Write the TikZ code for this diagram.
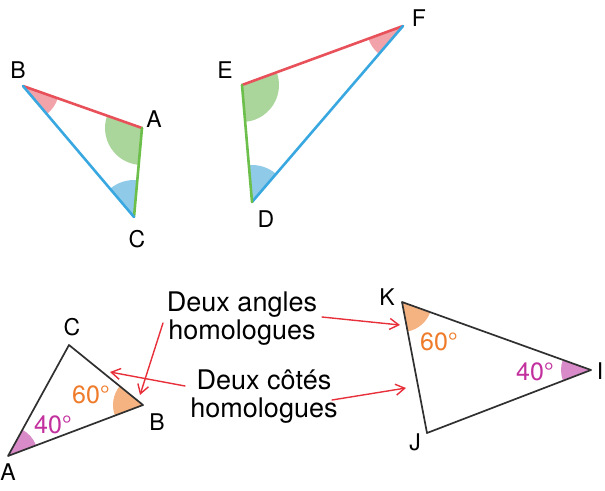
\documentclass[tikz,border=0pt]{standalone}
\usepackage{fontspec}
\setmainfont{TeX Gyre Heros}
\usetikzlibrary{angles, arrows.meta}

\definecolor{sidered}{HTML}{E8505A}
\definecolor{sideblue}{HTML}{3AA8E0}
\definecolor{sidegreen}{HTML}{6CBF4A}
\definecolor{wedgered}{HTML}{F2A3AA}
\definecolor{wedgegreen}{HTML}{AAD59B}
\definecolor{wedgeblue}{HTML}{8FCBE8}
\definecolor{wedgeorange}{HTML}{F5B382}
\definecolor{wedgemagenta}{HTML}{D88BC8}
\definecolor{txtorange}{HTML}{EF7B2A}
\definecolor{txtmagenta}{HTML}{C2309E}
\definecolor{arrowred}{HTML}{E8303A}
\definecolor{edgegray}{HTML}{303030}

\begin{document}
\begin{tikzpicture}[x=1pt, y=-1pt, line join=round, line cap=round,
    vlabel/.style={font=\fontsize{23}{23}\selectfont, inner sep=0pt},
    note/.style={font=\fontsize{27}{28}\selectfont, align=center, inner sep=2pt},
    deg/.style={font=\fontsize{25}{25}\selectfont, inner sep=0pt},
    edgetop/.style={line width=2.6pt},
    edgebot/.style={line width=1.7pt, draw=edgegray},
    bigwedge/.style={angle radius=37pt},
    smallwedge/.style={angle radius=30pt},
    pointer/.style={draw=arrowred, line width=1.4pt, -{Straight Barb[length=9pt,width=11pt]}}]

    \useasboundingbox (0,0) rectangle (605,490);

    % --- Top left triangle ABC ---
    \coordinate (B1) at (23,86);
    \coordinate (A1) at (142,128);
    \coordinate (C1) at (134,217);

    \pic[bigwedge, fill=wedgered]   {angle = C1--B1--A1};
    \pic[bigwedge, fill=wedgegreen] {angle = B1--A1--C1};
    \pic[bigwedge, fill=wedgeblue]  {angle = A1--C1--B1};

    \draw[edgetop, sidered]   (B1) -- (A1);
    \draw[edgetop, sidegreen] (A1) -- (C1);
    \draw[edgetop, sideblue]  (C1) -- (B1);

    \node[vlabel] (lB1) at (18,70)  {B};
    \node[vlabel] (lA1) at (154,119) {A};
    \node[vlabel] (lC1) at (137,239) {C};

    % --- Top right triangle DEF ---
    \coordinate (E2) at (242,85);
    \coordinate (F2) at (403,26);
    \coordinate (D2) at (252,202);

    \pic[bigwedge, fill=wedgegreen] {angle = D2--E2--F2};
    \pic[bigwedge, fill=wedgered]   {angle = E2--F2--D2};
    \pic[bigwedge, fill=wedgeblue]  {angle = F2--D2--E2};

    \draw[edgetop, sidered]   (E2) -- (F2);
    \draw[edgetop, sideblue]  (F2) -- (D2);
    \draw[edgetop, sidegreen] (D2) -- (E2);

    \node[vlabel] (lE2) at (225,70)  {E};
    \node[vlabel] (lF2) at (419,18)  {F};
    \node[vlabel] (lD2) at (266,219) {D};

    % --- Bottom left triangle ABC ---
    \coordinate (A3) at (8,456);
    \coordinate (B3) at (143,405);
    \coordinate (C3) at (69,345);

    \pic[smallwedge, fill=wedgemagenta] {angle = B3--A3--C3};
    \pic[smallwedge, fill=wedgeorange]  {angle = C3--B3--A3};

    \draw[edgebot] (A3) -- (B3) -- (C3) -- cycle;

    \node[vlabel] (lC3) at (72,327)  {C};
    \node[vlabel] (lB3) at (157,422) {B};
    \node[vlabel] (lA3) at (8,472)   {A};

    \node[deg, txtorange]  (d60a) at (91,395) {60°};
    \node[deg, txtmagenta] (d40a) at (53,425) {40°};

    % --- Bottom right triangle IJK ---
    \coordinate (K4) at (402,302);
    \coordinate (I4) at (591,370);
    \coordinate (J4) at (427,433);

    \pic[smallwedge, fill=wedgeorange]  {angle = J4--K4--I4};
    \pic[smallwedge, fill=wedgemagenta] {angle = K4--I4--J4};

    \draw[edgebot] (K4) -- (I4) -- (J4) -- cycle;

    \node[vlabel] (lK4) at (387,297) {K};
    \node[vlabel, font=\rmfamily\fontsize{23}{23}\selectfont] (lI4) at (600,371) {I};
    \node[vlabel] (lJ4) at (415,442) {J};

    \node[deg, txtorange]  (d60b) at (439,342) {60°};
    \node[deg, txtmagenta] (d40b) at (535,372) {40°};

    % --- Notes and pointers ---
    \node[note] (angnote) at (242,319) {Deux angles\\homologues};
    \node[note] (sidenote) at (264,397) {Deux côtés\\homologues};

    \coordinate (angL) at (163,323);
    \coordinate (angR) at (322,317);
    \coordinate (sideL) at (185,386);
    \coordinate (sideR) at (332,400);

    \coordinate (tipB) at (140,395);
    \coordinate (tipK) at (400,325);
    \coordinate (tipBC) at (110,372);
    \coordinate (tipKJ) at (406,388);

    \draw[pointer] (angL) -- (tipB);
    \draw[pointer] (angR) -- (tipK);
    \draw[pointer] (sideL) -- (tipBC);
    \draw[pointer] (sideR) -- (tipKJ);

\end{tikzpicture}
\end{document}
